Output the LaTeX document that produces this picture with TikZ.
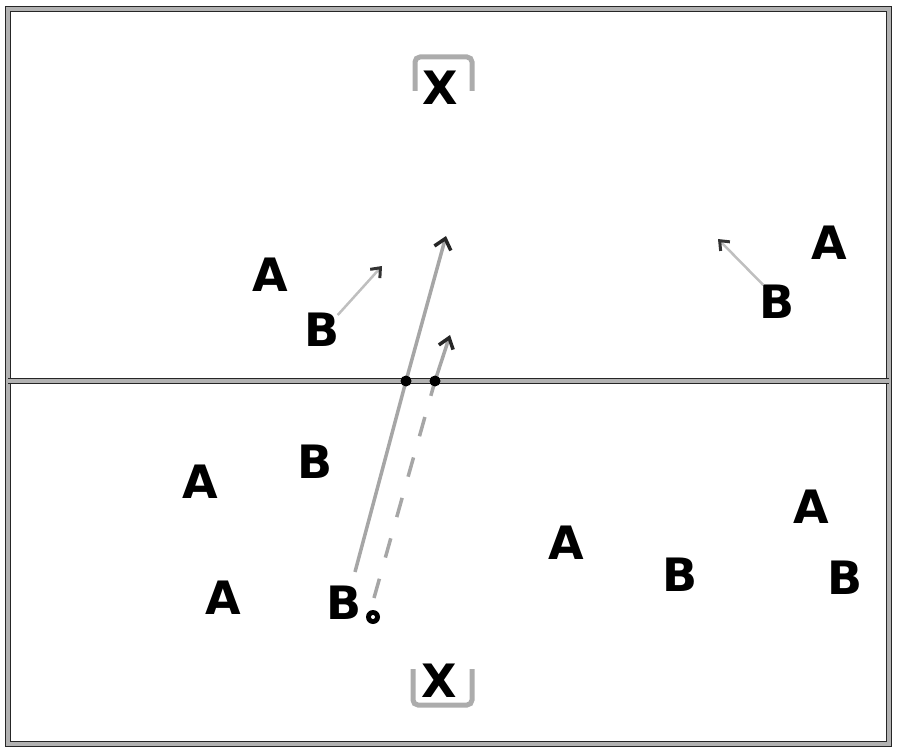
\documentclass[tikz,border=0pt]{standalone}
\usepackage{fontspec}
\setmainfont{DejaVu Sans}
\usetikzlibrary{arrows.meta}
\begin{document}
\begin{tikzpicture}[x=1pt,y=-1pt,
  court/.style={draw=black!85,double=gray!60,line width=1.2pt,double distance=3.5pt},
  lbl/.style={font=\fontsize{46}{46}\selectfont\bfseries,inner sep=0pt},
  pass/.style={draw=gray!50,line width=2.5pt,-{Straight Barb[length=8pt,width=13pt,line width=3pt,color=black!80]}},
  run/.style={draw=gray!70,line width=3.5pt},
  goalst/.style={draw=gray!65,line width=5pt,rounded corners=5pt},
  dot/.style={circle,fill=black,inner sep=0pt,minimum size=11pt}]
\useasboundingbox (0,0) rectangle (900,754);
% court
\draw[court] (8,9) rectangle (889,744);
\draw[court] (8,381) -- (889,381);
% goals
\draw[goalst] (415,91) -- (415,57) -- (472,57) -- (472,91);
\draw[goalst] (413,669) -- (413,705) -- (472,705) -- (472,669);
\node[lbl] (x1) at (440,88) {X};
\node[lbl] (x2) at (439,681) {X};
% players
\node[lbl] (a1) at (270,275) {A};
\node[lbl] (b1) at (322,330) {B};
\node[lbl] (a2) at (829,243) {A};
\node[lbl] (b2) at (777,302) {B};
\node[lbl] (b3) at (315,462) {B};
\node[lbl] (a3) at (200,482) {A};
\node[lbl] (a4) at (223,598) {A};
\node[lbl] (b4) at (344,603) {B};
\node[lbl] (a5) at (566,543) {A};
\node[lbl] (b5) at (680,575) {B};
\node[lbl] (a6) at (811,507) {A};
\node[lbl] (b6) at (845,578) {B};
% ball
\node[circle,fill=black,inner sep=0pt,minimum size=14pt] (ball) at (373,617) {};
\fill[white] (ball.center) circle (2pt);
% passes
\coordinate (p1) at (382,266);
\draw[pass] (b1.north east) ++(-2,2) -- (p1);
\coordinate (p2) at (718,239);
\draw[pass] (b2.north west) ++(4,0) -- (p2);
% runs
\coordinate (t1) at (446,236);
\coordinate (s1) at (355,572);
\coordinate (d1) at (406,381);
\coordinate (d2) at (435,381);
\draw[run] (s1) -- (d1);
\draw[run,-{Straight Barb[length=10pt,width=17pt,line width=3.5pt,color=black!85]}] (d1) -- (t1);
\coordinate (s2) at (374,598);
\coordinate (t2) at (450,335);
\draw[run,dash pattern=on 20pt off 22pt] (s2) -- (d2);
\draw[run,-{Straight Barb[length=10pt,width=15pt,line width=3.5pt,color=black!85]}] (d2) -- (t2);
% dots on center line
\node[dot] (n1) at (d1) {};
\node[dot] (n2) at (d2) {};
\end{tikzpicture}
\end{document}
